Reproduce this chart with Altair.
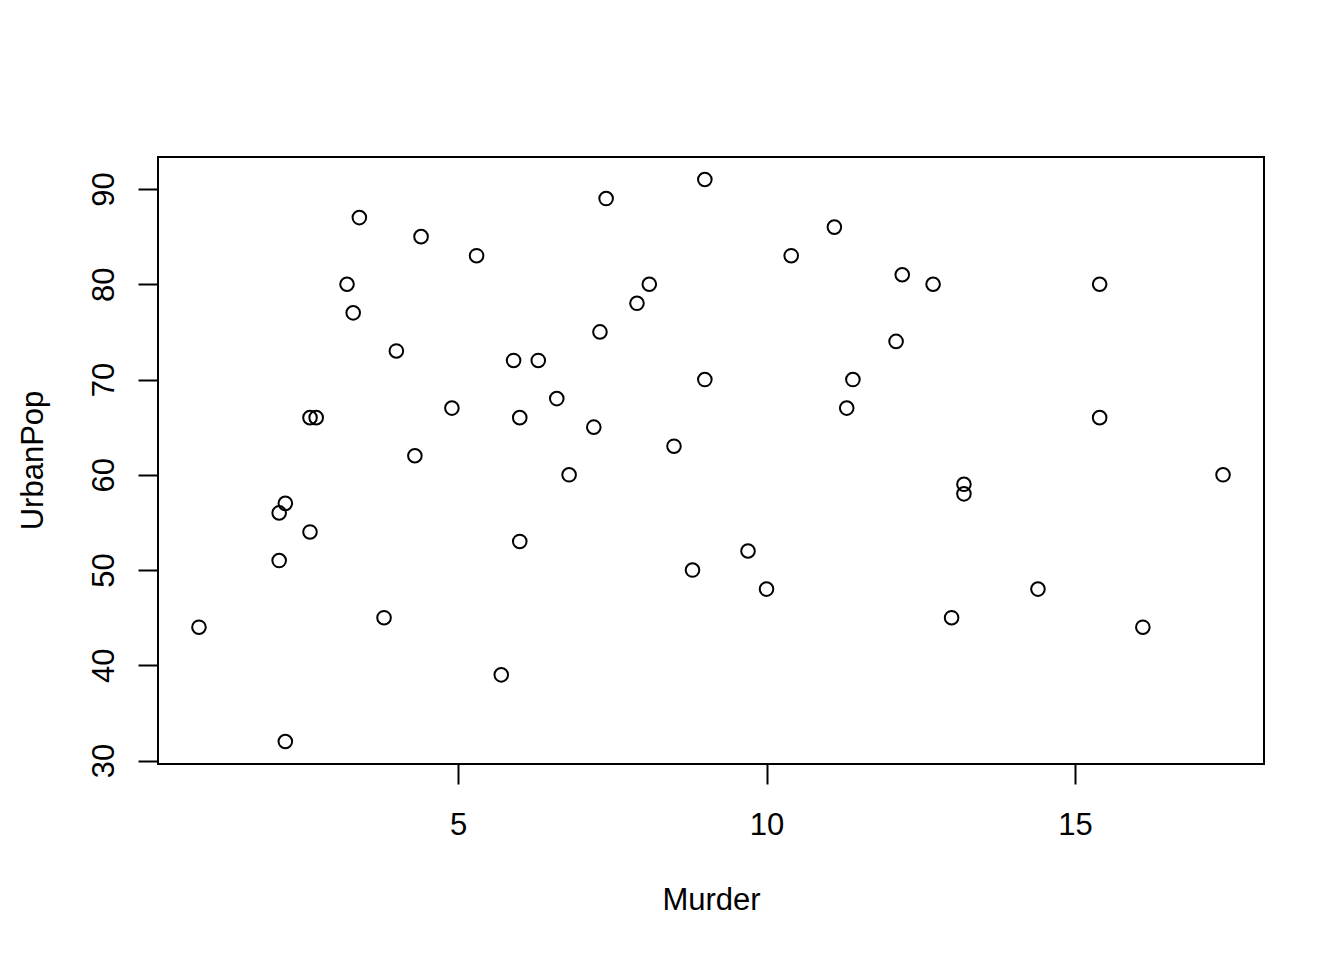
import altair as alt
import pandas as pd

states = ["Alabama", "Alaska", "Arizona", "Arkansas", "California", "Colorado",
          "Connecticut", "Delaware", "Florida", "Georgia", "Hawaii", "Idaho",
          "Illinois", "Indiana", "Iowa", "Kansas", "Kentucky", "Louisiana",
          "Maine", "Maryland", "Massachusetts", "Michigan", "Minnesota",
          "Mississippi", "Missouri", "Montana", "Nebraska", "Nevada",
          "New Hampshire", "New Jersey", "New Mexico", "New York",
          "North Carolina", "North Dakota", "Ohio", "Oklahoma", "Oregon",
          "Pennsylvania", "Rhode Island", "South Carolina", "South Dakota",
          "Tennessee", "Texas", "Utah", "Vermont", "Virginia", "Washington",
          "West Virginia", "Wisconsin", "Wyoming"]
murder = [13.2, 10.0, 8.1, 8.8, 9.0, 7.9, 3.3, 5.9, 15.4, 17.4, 5.3, 2.6,
          10.4, 7.2, 2.2, 6.0, 9.7, 15.4, 2.1, 11.3, 4.4, 12.1, 2.7, 16.1,
          9.0, 6.0, 4.3, 12.2, 2.1, 7.4, 11.4, 11.1, 13.0, 0.8, 7.3, 6.6,
          4.9, 6.3, 3.4, 14.4, 3.8, 13.2, 12.7, 3.2, 2.2, 8.5, 4.0, 5.7,
          2.6, 6.8]
urbanpop = [58, 48, 80, 50, 91, 78, 77, 72, 80, 60, 83, 54, 83, 65, 57, 66,
            52, 66, 51, 67, 85, 74, 66, 44, 70, 53, 62, 81, 56, 89, 70, 86,
            45, 44, 75, 68, 67, 72, 87, 48, 45, 59, 80, 80, 32, 63, 73, 39,
            66, 60]
x_ticks = [5, 10, 15]
y_ticks = [30, 40, 50, 60, 70, 80, 90]

df = pd.DataFrame({"State": states, "Murder": murder, "UrbanPop": urbanpop})

FONT = "Liberation Sans"
FS = 31

chart = alt.Chart(df).mark_point(
    shape="circle", filled=False, color="black", strokeWidth=2, size=185, opacity=1
).encode(
    x=alt.X("Murder:Q",
            scale=alt.Scale(domain=[0.136, 18.064], nice=False, zero=False),
            axis=alt.Axis(values=x_ticks, grid=False, domain=False,
                          tickSize=20, tickWidth=2, tickColor="black",
                          labelFont=FONT, labelFontSize=FS, labelColor="black",
                          labelBaseline="alphabetic", labelPadding=50,
                          labelAlign="center", labelFlush=False,
                          title="Murder", titleFont=FONT, titleFontSize=FS,
                          titleFontWeight="normal", titleColor="black",
                          titleBaseline="alphabetic", titleY=145)),
    y=alt.Y("UrbanPop:Q",
            scale=alt.Scale(domain=[29.64, 93.36], nice=False, zero=False),
            axis=alt.Axis(values=y_ticks, grid=False, domain=False,
                          tickSize=20, tickWidth=2, tickColor="black",
                          labelFont=FONT, labelFontSize=FS, labelColor="black",
                          labelAngle=270, labelAlign="center",
                          labelBaseline="alphabetic", labelPadding=25,
                          labelFlush=False,
                          title="UrbanPop", titleFont=FONT, titleFontSize=FS,
                          titleFontWeight="normal", titleColor="black",
                          titleAngle=270, titleBaseline="alphabetic",
                          titleX=-116, titleY=303)),
).properties(
    width=1106, height=607,
    background="white",
    padding={"left": 150, "top": 149, "right": 60, "bottom": 180},
    autosize=alt.AutoSizeParams(type="none"),
).configure_view(
    stroke="black", strokeWidth=2, strokeOpacity=1, fill="white"
)

chart.save("out.html", embed_options={"renderer": "svg", "actions": False})
